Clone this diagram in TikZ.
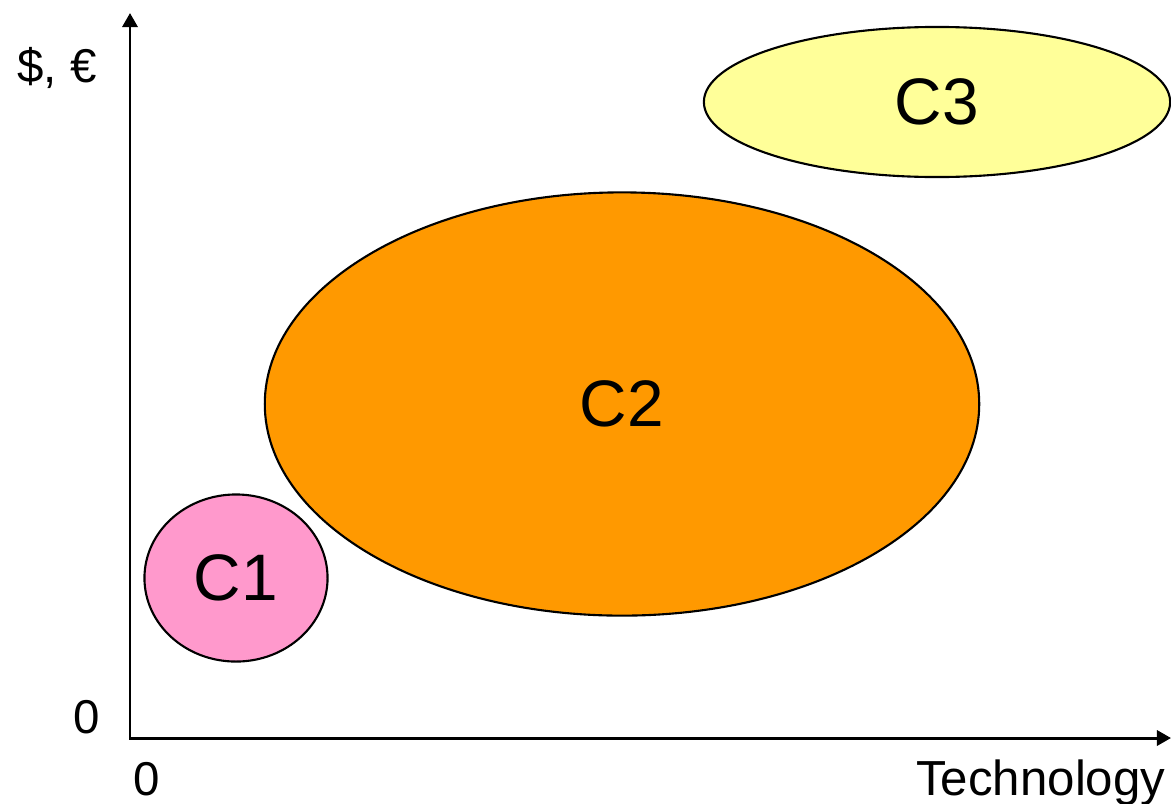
\documentclass[tikz,border=0pt]{standalone}
\usepackage{fontspec}
\setmainfont{Liberation Sans}
\usetikzlibrary{shapes.geometric,arrows.meta}
\definecolor{pinkfill}{RGB}{255,153,204}
\definecolor{orangefill}{RGB}{255,153,0}
\definecolor{yellowfill}{RGB}{255,255,153}

\begin{document}
\begin{tikzpicture}[x=0.01cm,y=-0.01cm,
        cluster/.style={ellipse,draw=black,line width=0.6pt,inner sep=0pt,font=\fontsize{18.7}{22}\selectfont},
        axisline/.style={line width=0.85pt,{Triangle[length=4pt,width=4.3pt]}-{Triangle[length=4pt,width=4.3pt]}},
        axislabel/.style={font=\fontsize{13.5}{16}\selectfont,inner sep=0pt},
        ]
        \useasboundingbox (0,0) rectangle (1171,803);
        \coordinate (origin) at (130,738);
        \coordinate (ytip) at (130,13);
        \coordinate (xtip) at (1171,738);
        \draw[axisline] (ytip) -- (origin) -- (xtip);
        \node[axislabel,anchor=base] (money) at (57,82) {\$, €};
        \node[axislabel,anchor=base] (yzero) at (87,733) {0};
        \node[axislabel,anchor=base] (xzero) at (147,795) {0};
        \node[axislabel,anchor=base east,font=\fontsize{14}{16}\selectfont] (tech) at (1166,795) {Technology};
        \node[cluster,fill=pinkfill,minimum width=1.83cm,minimum height=1.67cm] (c1) at (236,578) {C1};
        \node[cluster,fill=orangefill,minimum width=7.14cm,minimum height=4.23cm] (c2) at (622,404) {C2};
        \node[cluster,fill=yellowfill,minimum width=4.66cm,minimum height=1.50cm] (c3) at (937,102) {C3};
      \end{tikzpicture}
\end{document}
